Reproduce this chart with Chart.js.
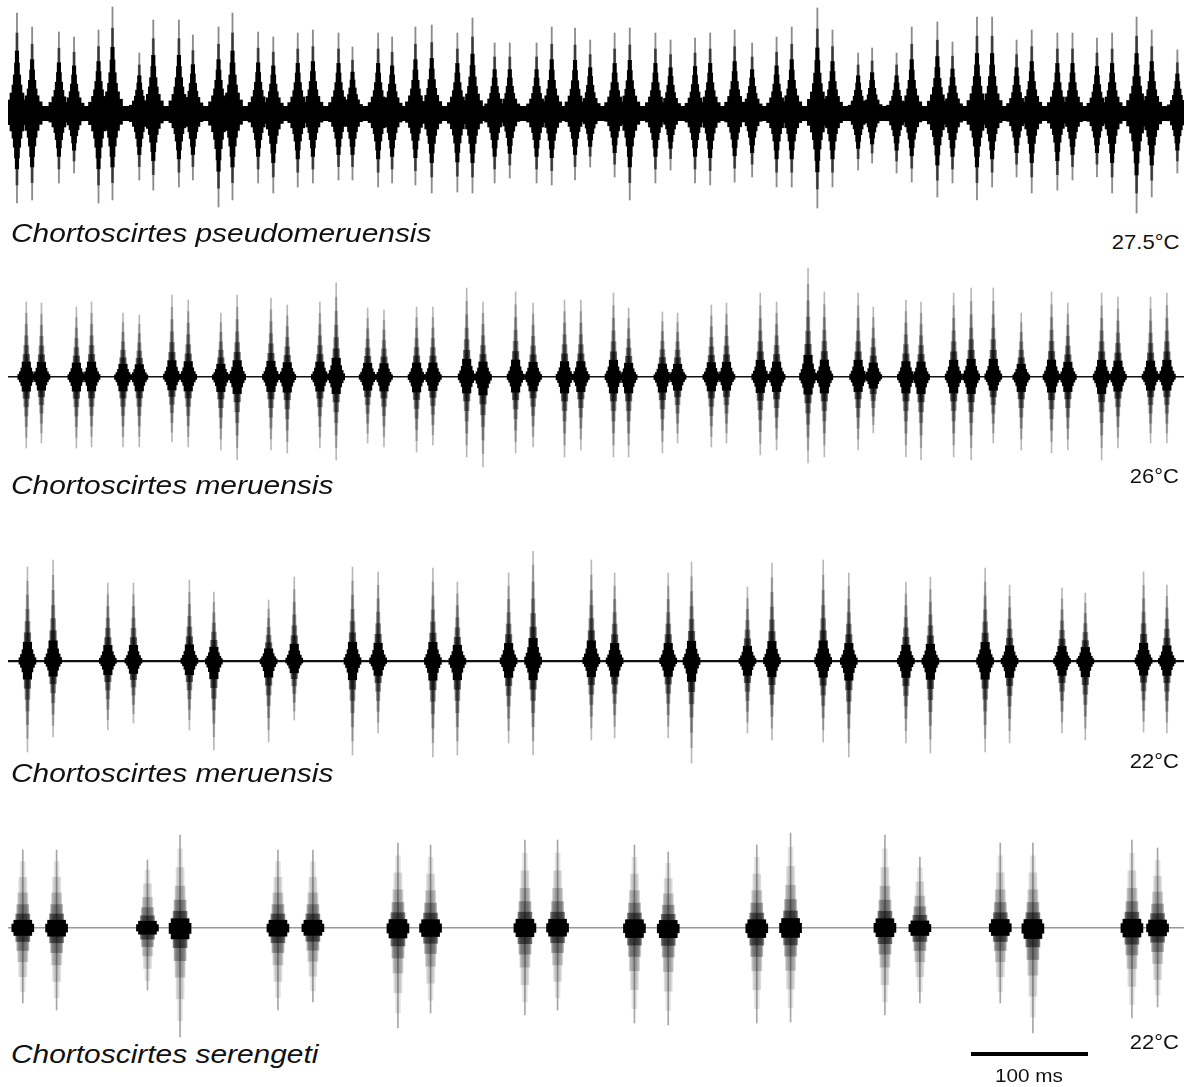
<!DOCTYPE html>
<html>
<head>
<meta charset="utf-8">
<script src="https://cdn.jsdelivr.net/npm/chart.js@4.4.1/dist/chart.umd.min.js"></script>
<style>
  body { margin: 0; background: #fff; width: 1186px; height: 1087px; position: relative; overflow: hidden;
         font-family: "Liberation Sans", Arial, Helvetica, sans-serif; color: #111; }
  canvas.trace { position: absolute; left: 8px; }
  .lbl { position: absolute; white-space: nowrap; line-height: 1; }
  .sp { left: 11px; font-style: italic; font-size: 26px; transform: scaleX(1.15); transform-origin: left; }
  .temp { right: 7px; font-size: 21px; transform: scaleX(1.05); transform-origin: right; }
  #bar { position: absolute; left: 971px; top: 1052px; height: 4px; background: #000; }
</style>
</head>
<body>
<canvas id="c1" class="trace" width="1176" height="220" style="top:3px"></canvas>
<canvas id="c2" class="trace" width="1176" height="220" style="top:267px"></canvas>
<canvas id="c3" class="trace" width="1176" height="220" style="top:551px"></canvas>
<canvas id="c4" class="trace" width="1176" height="220" style="top:818px"></canvas>

<div class="lbl sp" style="top:220px">Chortoscirtes pseudomeruensis</div>
<div class="lbl temp" style="top:231px">27.5°C</div>
<div class="lbl sp" style="top:472px">Chortoscirtes meruensis</div>
<div class="lbl temp" style="top:465px">26°C</div>
<div class="lbl sp" style="top:760px">Chortoscirtes meruensis</div>
<div class="lbl temp" style="top:750px">22°C</div>
<div class="lbl sp" style="top:1041px">Chortoscirtes serengeti</div>
<div class="lbl temp" style="top:1031px">22°C</div>
<div id="bar"></div>
<div class="lbl" style="top:1067px;left:995px;font-size:18px;transform:scaleX(1.15);transform-origin:left">100 ms</div>

<script>
// pulse times (ms from start of each recording) and peak amplitudes above / below the baseline
const t1 = [6,19,42,55,76,88,111,123,145,157,179,191,213,226,247,260,282,294,316,328,348,362,384,397,416,429,452,465,485,498,
            519,532,554,567,588,601,622,637,658,671,693,706,728,740,761,774,796,809,830,843,864,877,899,912,933,946,967,980,1002];
const up1 = [100,86,81,76,83,106,60,93,93,78,86,100,81,76,80,83,80,66,80,76,86,88,80,95,70,70,70,86,85,73,
             80,85,80,73,75,80,83,70,76,86,105,83,60,65,60,86,91,71,96,96,73,83,80,80,75,80,96,83,63];
const down1 = [90,87,70,60,90,87,67,77,74,67,94,87,70,80,74,70,67,67,74,70,72,80,79,80,70,65,70,72,67,54,
               64,87,70,57,70,72,69,64,74,74,95,74,57,50,60,69,84,70,87,74,64,80,77,67,64,80,100,84,60];

const t2 = [14,27,57,70,97,111,139,153,181,195,224,238,266,280,307,321,349,363,392,406,434,449,476,490,518,531,560,573,602,615,
            644,658,685,699,728,741,769,782,810,825,844,868,894,908,937,951,979,993];
const up2 = [75,74,70,75,64,62,82,77,64,82,79,72,75,94,69,67,70,70,89,75,85,74,77,77,84,69,65,64,72,74,
             84,75,109,85,84,70,77,75,84,89,89,64,85,74,84,80,80,84];
const down2 = [71,66,71,70,70,70,65,70,73,83,73,76,71,83,66,70,75,68,80,90,76,70,80,73,80,80,76,66,70,66,
               78,73,86,80,73,56,80,83,80,83,66,73,76,73,83,71,66,66];

const t3 = [15,37,84,106,154,175,222,244,294,316,363,384,428,449,499,519,565,585,633,654,698,720,769,790,837,858,903,923,973,993];
const up3 = [94,101,78,78,81,69,61,84,94,89,93,79,88,113,101,88,88,99,74,98,101,88,79,84,93,76,73,68,89,76];
const down3 = [91,76,69,62,69,89,81,59,94,72,96,94,82,94,79,77,77,102,72,79,81,96,82,92,91,82,72,79,71,72];

const t4 = [11,40,118,146,230,260,333,361,442,470,536,565,641,670,751,781,850,878,963,985];
const up4 = [78,78,68,93,78,78,85,83,88,88,83,76,83,95,93,71,85,85,88,80];
const down4 = [75,82,62,109,82,74,100,85,87,82,95,97,95,94,87,75,75,105,90,79];

const scaleBarMs = 100;

// drawing layers of one pulse: fraction of the peak, bar width in px, colour
const denseLayers = [
  { frac: 1.0, w: 1.2, color: 'rgba(0,0,0,0.45)' },
  { frac: 0.8, w: 2.2, color: 'rgba(0,0,0,0.6)' },
  { frac: 0.62, w: 3.5, color: '#000' },
  { frac: 0.5, w: 5, color: '#000' },
  { frac: 0.38, w: 7.5, color: '#000' },
  { frac: 0.28, w: 10, color: '#000' },
  { frac: 0.2, w: 14, color: '#000' },
  { frac: 0.13, w: 20, color: '#000' },
];
const spindleLayers = [
  { frac: 1.0, w: 1, color: 'rgba(0,0,0,0.28)' },
  { frac: 0.85, w: 1.8, color: 'rgba(0,0,0,0.22)' },
  { frac: 0.7, w: 2.6, color: 'rgba(0,0,0,0.25)' },
  { frac: 0.55, w: 3.6, color: 'rgba(0,0,0,0.3)' },
  { frac: 0.42, w: 5, color: 'rgba(0,0,0,0.4)' },
  { frac: 0.3, w: 6.5, color: 'rgba(0,0,0,0.55)' },
  { frac: 0.2, w: 8.5, color: '#000' },
  { frac: 0.12, w: 11, color: '#000' },
  { frac: 0.07, w: 14, color: '#000' },
  { frac: 0.035, w: 17, color: '#000' },
];
const burstLayers = [
  { frac: 1.0, w: 1, color: 'rgba(0,0,0,0.35)' },
  { frac: 0.85, w: 5, color: 'rgba(0,0,0,0.1)' },
  { frac: 0.65, w: 8, color: 'rgba(0,0,0,0.14)' },
  { frac: 0.45, w: 10, color: 'rgba(0,0,0,0.2)' },
  { frac: 0.3, w: 12, color: 'rgba(0,0,0,0.3)' },
  { frac: 0.18, w: 14, color: 'rgba(0,0,0,0.5)' },
  { frac: 0.1, w: 18, color: '#000' },
  { frac: 0.05, w: 22, color: '#000' },
];

const traces = [
  { id: 'c1', times: t1, up: up1, down: down1, layers: denseLayers, baseW: 15, baseColor: '#000' },
  { id: 'c2', times: t2, up: up2, down: down2, layers: spindleLayers, baseW: 1.5, baseColor: '#111' },
  { id: 'c3', times: t3, up: up3, down: down3, layers: spindleLayers, baseW: 2.2, baseColor: '#111' },
  { id: 'c4', times: t4, up: up4, down: down4, layers: burstLayers, baseW: 1.5, baseColor: '#999' },
];

function pulseDatasets(times, up, down, layers) {
  return layers.map((l, i) => ({
    data: times.map((t, k) => ({ x: t, y: [-down[k] * l.frac, up[k] * l.frac] })),
    backgroundColor: l.color,
    barThickness: l.w,
    grouped: false,
    borderWidth: 0,
    order: layers.length - i,
  }));
}

const charts = traces.map(tr => new Chart(document.getElementById(tr.id), {
  type: 'bar',
  data: { datasets: pulseDatasets(tr.times, tr.up, tr.down, tr.layers) },
  options: {
    responsive: false,
    animation: false,
    layout: { padding: 0 },
    plugins: { legend: { display: false }, tooltip: { enabled: false } },
    scales: {
      x: { type: 'linear', min: -1.7, max: 1007.7, offset: false, display: false },
      y: {
        min: -110, max: 110,
        afterBuildTicks: axis => { axis.ticks = [{ value: 0 }]; },
        ticks: { display: false },
        border: { display: false },
        grid: { color: tr.baseColor, lineWidth: tr.baseW, drawTicks: false },
      },
    },
  },
}));

// scale bar length from the last trace's time axis
const xs = charts[3].scales.x;
document.getElementById('bar').style.width = (xs.getPixelForValue(scaleBarMs) - xs.getPixelForValue(0)) + 'px';
</script>
</body>
</html>
